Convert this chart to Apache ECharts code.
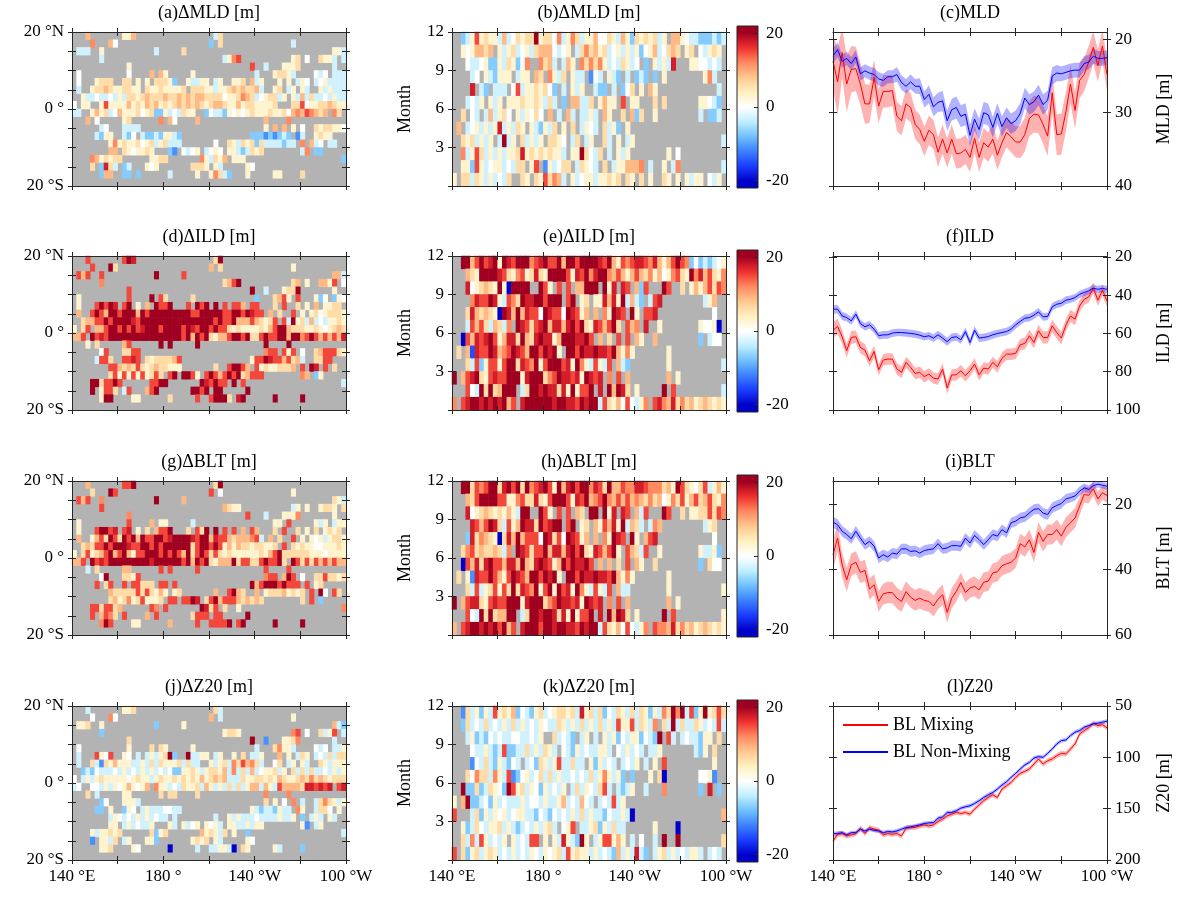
<!DOCTYPE html>
<html>
<head>
<meta charset="utf-8">
<script src="https://cdn.jsdelivr.net/npm/echarts@6/dist/echarts.min.js"></script>
<style>
  html, body { margin: 0; background: #fff; }
  #chart { width: 1187px; height: 900px; }
</style>
</head>
<body>
<div id="chart"></div>
<script>
// ---- axis ticks / labels ----
const lonTicks = [140, 160, 180, 200, 220, 240, 260];
const lonLabelAt = [140, 180, 220, 260];
const lonLabelText = ["140 °E", "180 °", "140 °W", "100 °W"];
const latTicks = [-20, -15, -10, -5, 0, 5, 10, 15, 20];
const latLabelAt = [-20, 0, 20];
const latLabelText = ["20 °S", "0 °", "20 °N"];
const monthTicks = [0, 3, 6, 9, 12];
const monthLabelAt = [3, 6, 9, 12];
const cbarTicks = [-20, 0, 20];

// longitude of the zonal-mean curves
const lon = [140, 142, 144, 146, 148, 150, 152, 154, 156, 158, 160, 162, 164, 166, 168, 170, 172, 174, 176, 178,
  180, 182, 184, 186, 188, 190, 192, 194, 196, 198, 200, 202, 204, 206, 208, 210, 212, 214, 216, 218,
  220, 222, 224, 226, 228, 230, 232, 234, 236, 238, 240, 242, 244, 246, 248, 250, 252, 254, 256, 258, 260];

// cell codes read off the colour of each cell ('.' = no data, grey)
const levelValue = { "0": 0, "1": 3, "2": 6, "3": 9, "4": 12, "5": 15, "6": 17.5, "7": 20,
  a: -3, b: -7, c: -11, d: -15, e: -20 };

// maps: 60 lon cells (2 deg) x 20 lat cells (2 deg), north row first
const mldMap = [
  "...3...... .113...... .......... .a2....... .......... ..........",
  "....4...30 .......... .......... b.2....... ........a. ..........",
  ".aaa..1... ........a. ....2..... .......... .......... .......11a",
  "......a... .......... .......... ...a145... ........12 .0..211a.a",
  ".......... ..1....... .......... .........5 ..a...1112 .......a..",
  ".0........ ..0....3.3 1.....1... .......... a...1221a. ...0a0.aaa",
  ".0...1222. .22.1.1.22 21b..1aa11 .a1..112.3 a1...1.1.a 10.a01aaaa",
  ".a..122321 12211.2112 11112.2221 1a11232322 3a..12.a1. 1a..1a1aaa",
  "..1aa0aa0a 1a22123222 3223232332 2220112432 a0122a1.1a 3a2aa0a1aa",
  "0.11..1511 1131213231 2123232321 2332113122 11112...22 5011223211",
  "aa..1312a0 31112012bb 1a0a211..b 0aab101012 1112112034 354323.42.",
  "...3.0.... .12......4 .30....3.. .......... ..3....4.. ..........",
  "......a0.. .aaaa..... .......... .......... ..1.3.3.1. 0..2122110",
  ".....ab11. .ab0.abbab 11ab...... .........b bbcbcbab.c a..1211...",
  "........14 12112012a1 2aaa...... .0..21a212 b2aaaabaa. 4.3a0.aa..",
  "........33 .2101121.. .bc.0a01.a 010.11aba2 12........ a4.bb.....",
  "....431212 2......112 2.......41 a213.111.. .......... .........b",
  "....2.b62a .ba...101. ......2221 .1a.....10 .......... ..........",
  "......b33. .bb.b..... .a.....1.. 142ab...1. ....11.... 2.........",
  ".......... .......... .......... .......... .......... .........."
];
const ildMap = [
  "...5...... .576...... .......... .27....... .......... ..........",
  "....5...72 .......... .......... 3.2....... ........1. ..........",
  ".535..5... ........7. ....5..... .......... .......... .......33a",
  "......4... .......... .......... ...2357... ........23 .1..3315.0",
  ".......... ..5....... .......... .........7 ..a...1227 .......1..",
  ".1........ ..5....7.5 2.....2... .......... b...2351.5 ...1b0.b10",
  ".1...57576 .57.1.3.75 57...5.757 .7.5.553.5 5...2.5..2 .1.3.1122.",
  ".3..575377 5777375777 7777775577 7775577576 55.3.2..5. 1.12012221",
  "..23355757 7776577777 7777777777 7575573335 32125.5a71 2a3a0a1121",
  "1.25.33577 5757567775 7777576577 5755212111 1213577322 2112101232",
  "335.756577 7777777777 7777573757 2133577572 2575577377 4575353536",
  "...1.2.... .35......7 .7.....7.. .......... ..7....7.. ..........",
  "......05.. .2255..... .......... .......... ..455.515. 0..2355521",
  ".....a552. .5565.2122 2235...... .........1 5576553523 a..2255...",
  "........55 3232521232 2111...... .2..57753. 512112223. 5.76.5.2..",
  "........25 1515151252 .57.7751.5 7535757235 55........ 43.b1.....",
  "....772557 5......557 7.......76 5755.7.5.. .......... .........a",
  "....7.1552 .a5...357. ......7757 .77.....7. .......... ..........",
  "......177. ...11..... .2.....5.. 57772.67.. ....7..... 7.........",
  ".......... .......... .......... .......... .......... .........."
];
const bltMap = [
  "...3...... .557...... .......... .27....... .......... ..........",
  "....2...75 .......... .......... 5.0....... ........1. ..........",
  ".535..4... ........7. ....3..... .......... .......... .......21a",
  "......5... .......... .......... ...3211... ........a1 .1..1221.2",
  ".......... ..4....... .......... ........5. ..a...1114 .......1..",
  ".1........ ..5....3.1 1.....a... .......... ....11.5.. ...1a1.a11",
  ".1...57756 .56.1.2.35 57...2.527 .7.5.5.3.5 3...2.5..2 .1.2.1212.",
  ".3..135275 2757375577 5677776577 3655323334 5a.3.2..5. 1.101a1221",
  "..23255757 7765577575 7777772577 5751313221 22112.5.21 2110011121",
  "1.25123573 5731557775 7575372575 2521211111 1213572222 2211101111",
  "335.756577 7777777677 7777573757 2133372552 2575572.75 2525353533",
  "...a.2.... .33......5 .5.....5.. .......... ..5....5.. ..........",
  "......07.. .2215..... .......... .......... ..455.375. 0..2252212",
  ".....5.25. .5.55222.5 5.5....... .........7 3577757555 .5.12.....",
  "........32 2222525213 1.12...... .3..5732.. 3.12223121 2.5.70.52.",
  "........23 1241251112 .55.5576.2 5735553232 32........ 2.5.b.....",
  "....552552 3......54. 5.......76 25.2..1... .......... .........4",
  "....5.3542 .5....3.5. ......2555 .55.....7. .......... ..........",
  "......475. ...11..... .3.....5.. 55557.57.. ....7..... 7.........",
  ".......... .......... .......... .......... .......... .........."
];
const z20Map = [
  "...a...... .112...... .......... .2a....... .......... ..........",
  "....0...40 .......... .......... 3.a....... ........1. ..........",
  ".112..1... ........b. ....1..... .......... .......... .......3ab",
  "......b... .......... .......... ...1221... ........45 .0..2a15.a",
  ".......... ..2....... .......... .........7 ..c...1124 .......a..",
  ".0........ ..1....2.2 1.....1... .......... a...2411a. ...0a0.aa1",
  ".a...5105. .10.a.a1a1 27b..7aa11 .a1..1.2.a a1...3.1.a 21.a0a2a22",
  ".a..2ac213 111aa1a2a2 1112a2aa.. 1a12a42534 2a..02.a1. 1a..21a111",
  "..bab0aaa0 a1a0a1a1a0 a0bb1121a1 2213a4a2a3 a0112a1.2a 2a2aa0a1a1",
  "0.a1a12111 1101211a12 1121212131 2323aaa211 2212132112 3242321222",
  "a0..00a1a1 0131013.41 1a0a2112a3 1a1a2a2a13 3a31a53333 2665656.56",
  "...2.a.... .11......2 .22....2.. .......... ..4....4.. ..........",
  "......b0.. .111a..... .......... .......... ..2.1.0.4. a..a2421a1",
  ".....bb.1. .b10.a1aaa 00aa...... .........1 abaab1aa.4 1..a220.1.",
  "........a1 0a0a1a1a0a a.a....... .a..1a1aaa 0aaaa1aa1. b.a1a.1a..",
  "........11 .a1a0aa1.. .1a.1a01.1 01a.11aa1a 11........ 1c.a1.....",
  "....1a1121 2......2b1 2.......31 21a2.1..b. .......... .........a",
  "....c.11a2 .a1...11b. ......1212 .1a.....10 .......... ..........",
  "......112. ...10..... .e.....a.. aa11ae.21. ....1a.... b.........",
  ".......... .......... .......... .......... .......... .........."
];

// lon-month sections: 60 lon cells x 12 months, December row first
const mldMonth = [
  "..ba151211 a3a0212271 2204a142a1 130021a31b 21212a1.33 10aabbbaba",
  "..1013323. 1a12a01a23 330a01.a24 2312a01a1a 1b013a0232 .12.0a121.",
  "...0aa01bb 1a21b04..4 23a.a31.42 4241a0a21a 0.b.1a1a6. ..1100a0a.",
  "....a0.1ab 111.a11.32 .41a2.1aa. c0a.1ab.a. bab.b.1... .....14a..",
  "....6.ab.a aa.05a1121 20b.a.1a1. .abb.a.b02 .1.31..... ........a.",
  "...a0a1.1a 1.11121121 a2a.b.33aa 2.1311.5.1 1...2.2... ....110ab.",
  "..2.0a.a3a 120.1a1020 .3.a.3a.aa 1a.31..2.3 b2..1..... ....a.bba.",
  ".3.a01a1a1 6a1a21.1ab 1a2.1.2.a1 0a.2a1b.1. .......... ..........",
  "..212a1a1. a7a1.2a1a1 .2210.a2.a 1..2a.1.a1 .......... .........a",
  "..4a152a1a 1a11261212 1211a.1172 0a2.a.1a1. .......1.0 ..........",
  "..11b51a01 1a0a22.15. c1a022.a21 0a.2.a1133 34.a..1.a4 .........a",
  "1.22a21a1a 0a2..21.21 5243a.1a01 1a11212.21 .2.1..21.1 .1a11.0a1."
];
const ildMonth = [
  "..77357567 1765777456 7557377577 7765731545 6654631357 54b0baba01",
  "...3217777 6521451262 1777751657 4677435313 5324130145 2174635214",
  "...6012321 71e7777..7 51.5.5.337 77.716.65. 3b5...75.. 2.13135254",
  "....465576 1a54276677 5777.57.12 .1163617a3 ab.a56.... .....a13..",
  "...2632321 e763736550 7655076513 .3.41765.7 1.556..... .......0..",
  "...a5352a3 2a4.765256 7366367572 1653572.53 4.6..1.... ....1001e.",
  "..e5365675 1366273267 6613777667 5.3.2.5.5. 31..3..... ....b.a00.",
  ".2.3d65576 3457653775 7671.77576 6766573141 .......1.. ..........",
  "...2a5b155 1577265471 5777561741 a51a5.3ab. .......1.. .........a",
  "7.35672156 5577716777 2457665617 656.4.5.3. .......3.1 ..........",
  "...50a7272 3777.a2776 7662617155 7.6.73762. 1.....7.5. .........a",
  "4.56776767 6735.67777 7767766576 77a5213050 a14.564362 4231232121"
];
const bltMonth = [
  "..77254577 2675727456 7517367577 4652733544 6654442317 521025a131",
  "...3257777 5511452262 1577751657 3457435353 4324230142 5135235214",
  "...6012321 2131a77..7 51.5.5.32. 77.716.65. 3a5...75.. 2.11225254",
  "....653576 2a51376627 5677.57.12 .3153617a3 2a.a43.... .....a12..",
  "...b624321 e263735550 7625076513 .3.41765.7 1.356..... .......0..",
  "..24523223 2a4.765255 7366367572 1653571.53 2a5..1.... ....1aa1b.",
  "..e5362675 5366373267 6513757667 5.3.3.2.5. 31..2..... ....b.200.",
  ".2.1c65575 3157653775 7671.77576 6766573141 .......1.. ..........",
  "...2a5a125 1527265471 5717561741 a51a5.3aa. .......1.. .........1",
  "7.35662156 5577716777 2457665617 656.4.5.3. .......3.1 ..........",
  "...50a7272 3377.a2776 7762617155 7.6.73762. 1.....7.5. .........1",
  "3.56776767 5735.67775 7767766576 77a5213050 a14.544362 4231232121"
];
const z20Month = [
  "..c2a1b1a5 1213b0ab12 a012212a61 2a2b0a21a2 a21b1a4274 7a5b171252",
  "..b2a0a2a0 a1a2a1a0a1 0aa21a1a2a 1a2a1a5115 a21a4.2a7a 2aa21a0a5a",
  "...a1bab0a 0aa00aa0a1 ..2a0ab.a1 .a.1a1b0a1 1b0ab7.5a. a0aab11.2.",
  "....0aa1ab a5bbaa2a1a 21a.0ab1a0 aa11a.0a1a 0a.aa1.... ...ab1.2..",
  "....c0a2ab 1ab0a.a0b2 1a15aa2aa. 1b1a0a.a0a 1.a.1.5... .......1..",
  "...20422a4 1a5cb01a02 a2a1aa0a0a 2a141a1b.b ...1.2e... ....001c..",
  "..7bb2ba21 0b7512a10b 1a0a1.a2a1 0a25a.aba1 ..a...4... ....b.6.b.",
  "1.37bba0b1 a0aaa1a00a 1aa13a0a30 a.a0a5a1.. .......... ..........",
  "5...a2b1a1 01a011aab0 ab0a0a1a2a 1aab0aa1ae .......... .........3",
  "..1ba20a11 2a1aba0a1a 12a.015.aa 12b1a2aa.. ....1....e ..........",
  "..2a4a51a0 a1.1a0a55. 1.1a61ab71 .a155131.a .0..a.7..7 .........2",
  "5.2b12a121 a0a1a0a10a 1012a51211 a1a0ab3a1a 6ab.a12a1a 0a11a.a0a."
];

// zonal-mean curves (m) and their shaded spread
const mldMix = [23.0, 25.8, 21.8, 26.1, 24.1, 24.0, 26.1, 28.8, 28.8, 25.2, 29.1, 27.1, 27.1, 27.0, 30.5, 31.1, 28.8, 29.3, 31.6, 32.3,
  33.9, 32.4, 33.0, 35.4, 33.6, 35.5, 33.6, 35.6, 35.5, 35.0, 36.1, 33.5, 36.1, 34.1, 34.7, 33.6, 35.8, 34.1, 32.7, 33.3,
  34.0, 34.0, 33.0, 30.8, 30.2, 30.3, 31.6, 33.2, 27.3, 33.0, 32.9, 29.9, 26.1, 29.7, 25.6, 24.8, 23.1, 21.1, 23.6, 20.9, 24.8];
const mldMixErr = [3.6, 4.6, 3.4, 3.8, 3.2, 3.0, 2.9, 2.7, 2.6, 2.5, 2.3, 2.2, 2.2, 2.1, 2.0, 2.0, 2.0, 2.0, 2.0, 2.0,
  2.0, 2.0, 2.0, 2.0, 2.0, 2.0, 2.0, 2.0, 2.0, 2.0, 2.0, 2.0, 2.0, 2.0, 2.0, 2.0, 2.0, 2.0, 2.0, 2.1,
  2.1, 2.2, 2.3, 2.4, 2.5, 2.5, 2.6, 2.7, 2.8, 2.8, 2.8, 2.7, 2.6, 2.5, 2.4, 2.3, 2.2, 2.2, 2.2, 2.2, 2.2];
const mldNon = [22.3, 21.4, 23.0, 22.6, 23.3, 22.4, 24.7, 24.3, 24.6, 24.8, 25.4, 25.6, 25.1, 25.1, 24.8, 25.9, 26.4, 25.8, 26.4, 26.4,
  28.2, 27.5, 29.2, 28.6, 28.4, 31.1, 29.6, 29.3, 30.5, 30.2, 33.1, 30.9, 32.3, 30.0, 30.3, 32.0, 30.1, 31.9, 30.7, 31.5,
  31.1, 30.1, 28.0, 28.9, 28.5, 27.6, 28.9, 28.3, 25.0, 24.6, 24.7, 24.5, 24.3, 24.2, 24.2, 23.3, 23.1, 22.3, 22.6, 22.6, 22.5];
const mldNonErr = [1.0, 1.0, 0.9, 0.9, 0.9, 0.9, 0.9, 0.9, 0.9, 0.9, 0.9, 0.9, 0.9, 0.9, 1.0, 1.0, 1.0, 1.0, 1.0, 1.1,
  1.1, 1.2, 1.3, 1.3, 1.4, 1.4, 1.5, 1.5, 1.5, 1.5, 1.5, 1.5, 1.5, 1.5, 1.5, 1.4, 1.4, 1.4, 1.4, 1.4,
  1.4, 1.4, 1.4, 1.4, 1.4, 1.4, 1.4, 1.3, 1.2, 1.1, 1.0, 1.0, 1.0, 1.0, 1.0, 1.0, 1.0, 1.0, 1.0, 1.0, 1.0];

const ildMix = [58.3, 56.3, 61.7, 69.0, 62.1, 61.7, 67.3, 68.7, 74.3, 69.4, 79.0, 73.9, 73.4, 73.4, 78.6, 80.3, 75.1, 77.7, 80.9, 80.3,
  82.6, 81.2, 83.3, 83.8, 78.6, 88.5, 81.7, 81.6, 79.5, 82.1, 79.5, 76.0, 81.6, 78.1, 78.6, 75.1, 77.4, 73.0, 70.8, 70.8,
  70.4, 65.9, 65.2, 61.2, 64.7, 58.6, 62.1, 62.1, 56.0, 59.5, 62.4, 55.7, 50.8, 52.5, 45.6, 42.1, 40.9, 36.3, 42.6, 37.4, 43.0];
const ildMixErr = [4.2, 4.0, 3.6, 3.5, 3.4, 3.3, 3.2, 3.2, 3.1, 3.1, 3.0, 3.0, 3.0, 3.0, 3.0, 3.0, 3.0, 3.0, 3.0, 3.0,
  3.0, 3.0, 3.0, 3.0, 3.0, 3.1, 3.0, 3.0, 3.0, 3.0, 3.0, 3.0, 3.0, 3.0, 3.0, 3.0, 3.0, 3.0, 3.0, 3.0,
  3.0, 3.0, 3.0, 3.1, 3.1, 3.1, 3.2, 3.2, 3.2, 3.3, 3.3, 3.3, 3.2, 3.2, 3.1, 3.0, 3.0, 3.0, 3.0, 3.0, 3.0];
const ildNon = [47.3, 47.3, 50.8, 51.7, 53.4, 49.9, 54.8, 56.5, 55.5, 57.7, 61.2, 60.7, 60.7, 59.8, 59.5, 59.5, 59.7, 60.0, 60.3, 60.9,
  61.7, 61.2, 62.4, 60.7, 62.4, 64.3, 62.1, 61.7, 63.3, 59.0, 64.7, 58.3, 62.4, 62.1, 61.6, 60.7, 60.0, 59.5, 59.0, 57.7,
  55.5, 53.7, 52.0, 51.7, 50.4, 48.7, 51.3, 51.1, 46.1, 44.7, 44.2, 42.6, 42.1, 41.2, 39.5, 38.6, 37.7, 36.3, 36.9, 36.5, 36.9];
const ildNonErr = [2.2, 2.2, 2.1, 2.1, 2.0, 2.0, 2.0, 2.0, 2.0, 2.0, 2.0, 2.0, 2.0, 2.0, 2.0, 2.0, 2.0, 2.0, 2.0, 2.0,
  2.0, 2.0, 2.0, 2.1, 2.1, 2.1, 2.1, 2.1, 2.1, 2.1, 2.1, 2.1, 2.1, 2.1, 2.1, 2.0, 2.0, 2.0, 2.0, 2.0,
  2.0, 2.0, 2.0, 2.0, 2.0, 2.0, 2.0, 2.0, 2.0, 2.0, 2.0, 2.0, 2.0, 1.9, 1.9, 1.9, 1.9, 1.9, 1.9, 1.9, 1.9];

const bltMix = [35.4, 30.3, 38.5, 43.1, 38.5, 37.7, 40.8, 40.2, 45.9, 44.6, 49.7, 47.4, 47.0, 47.0, 48.7, 49.7, 46.7, 48.4, 49.4, 48.7,
  49.4, 49.7, 51.1, 49.0, 47.7, 53.1, 48.7, 46.7, 43.9, 47.0, 45.6, 45.1, 46.2, 43.8, 43.5, 41.0, 40.6, 38.8, 38.2, 37.7,
  36.4, 32.0, 33.0, 30.8, 34.7, 28.5, 31.3, 29.2, 29.2, 27.7, 29.7, 27.0, 25.6, 24.1, 20.5, 16.9, 17.2, 15.2, 18.3, 16.4, 17.2];
const bltMixErr = [4.5, 4.2, 3.8, 3.6, 3.5, 3.4, 3.3, 3.3, 3.2, 3.2, 3.2, 3.2, 3.3, 3.3, 3.2, 3.2, 3.2, 3.2, 3.2, 3.2,
  3.2, 3.2, 3.2, 3.1, 3.1, 3.2, 3.1, 3.1, 3.0, 3.0, 3.0, 3.0, 3.0, 3.0, 3.0, 3.0, 3.0, 3.0, 3.0, 3.0,
  3.0, 3.0, 3.0, 3.1, 3.1, 3.1, 3.1, 3.1, 3.1, 3.1, 3.1, 3.1, 3.0, 3.0, 2.8, 2.6, 2.4, 2.2, 2.2, 2.2, 2.2];
const bltNon = [25.4, 26.2, 28.2, 29.2, 30.5, 28.2, 30.3, 32.3, 31.3, 32.8, 36.4, 35.4, 36.1, 34.9, 35.2, 33.6, 33.6, 34.4, 34.2, 34.9,
  34.1, 33.8, 33.6, 32.0, 33.6, 33.3, 32.6, 32.6, 32.8, 30.3, 31.8, 29.5, 30.8, 32.3, 30.8, 29.2, 29.7, 27.7, 28.7, 25.6,
  25.1, 24.1, 23.8, 22.6, 21.5, 21.3, 22.6, 23.1, 21.0, 20.3, 19.7, 18.3, 17.9, 17.4, 15.9, 14.9, 15.4, 14.2, 13.8, 14.1, 14.4];
const bltNonErr = [1.7, 1.7, 1.6, 1.6, 1.6, 1.6, 1.6, 1.6, 1.6, 1.6, 1.6, 1.6, 1.6, 1.6, 1.6, 1.6, 1.6, 1.6, 1.6, 1.6,
  1.6, 1.6, 1.6, 1.6, 1.6, 1.6, 1.6, 1.6, 1.6, 1.6, 1.6, 1.6, 1.6, 1.6, 1.6, 1.6, 1.6, 1.6, 1.6, 1.6,
  1.6, 1.6, 1.6, 1.6, 1.6, 1.6, 1.6, 1.6, 1.6, 1.6, 1.5, 1.5, 1.5, 1.4, 1.4, 1.3, 1.2, 1.1, 1.0, 1.0, 1.0];

const z20Mix = [181.4, 174.9, 174.3, 176.5, 175.6, 174.3, 169.1, 174.3, 168.4, 170.0, 171.0, 175.6, 174.3, 174.9, 174.3, 176.5, 169.1, 168.4, 168.4, 166.8,
  165.8, 166.8, 165.8, 162.5, 160.3, 157.0, 155.4, 153.7, 154.7, 153.7, 155.4, 150.5, 146.3, 142.3, 139.1, 136.5, 139.1, 130.9, 127.7, 124.4,
  119.5, 115.6, 113.7, 111.4, 106.5, 101.6, 106.5, 103.3, 101.6, 98.4, 96.1, 96.7, 91.9, 87.0, 77.2, 73.9, 71.3, 66.8, 69.1, 68.1, 71.3];
const z20MixErr = [3.0, 2.8, 2.6, 2.5, 2.4, 2.4, 2.4, 2.4, 2.4, 2.4, 2.4, 2.4, 2.4, 2.4, 2.4, 2.5, 2.4, 2.4, 2.4, 2.4,
  2.4, 2.4, 2.4, 2.3, 2.3, 2.3, 2.3, 2.3, 2.3, 2.3, 2.3, 2.3, 2.3, 2.3, 2.3, 2.3, 2.3, 2.3, 2.3, 2.3,
  2.3, 2.3, 2.3, 2.4, 2.4, 2.5, 2.5, 2.5, 2.5, 2.5, 2.5, 2.5, 2.4, 2.4, 2.4, 2.4, 2.4, 2.4, 2.4, 2.4, 2.4];
const z20Non = [174.3, 174.3, 173.3, 175.6, 173.3, 173.3, 170.0, 171.7, 170.0, 171.0, 171.7, 173.3, 172.3, 172.6, 171.7, 170.0, 168.4, 167.8, 166.8, 165.8,
  164.5, 163.8, 163.5, 159.3, 158.0, 153.7, 153.7, 152.1, 149.5, 148.2, 147.2, 145.0, 142.3, 139.1, 136.5, 134.2, 130.9, 127.0, 123.8, 119.5,
  115.6, 111.4, 107.5, 104.9, 100.7, 99.3, 100.0, 96.1, 91.9, 87.0, 83.7, 83.1, 78.8, 75.6, 73.9, 70.7, 69.1, 67.4, 66.8, 65.8, 64.8];
const z20NonErr = [2.0, 2.0, 1.9, 1.9, 1.9, 1.9, 1.9, 1.9, 1.9, 1.9, 1.9, 1.9, 1.9, 1.9, 1.9, 1.9, 1.9, 1.9, 1.9, 1.9,
  1.9, 1.9, 1.9, 1.9, 1.9, 1.9, 1.9, 1.9, 1.9, 1.9, 1.9, 1.9, 1.9, 1.9, 1.9, 1.9, 1.9, 1.9, 1.9, 1.9,
  1.9, 1.9, 1.9, 1.9, 1.9, 1.9, 1.9, 1.9, 1.9, 1.9, 1.9, 1.9, 1.9, 1.9, 1.9, 1.9, 1.9, 1.9, 1.9, 1.9, 1.9];

// ---- styling / layout ----
const serif = '"Liberation Serif", "Times New Roman", Times, serif';
const ink = "#262626";
const nanGrey = "#b3b3b3";
const cmap = ["#0000c8", "#1a3cff", "#3c80ff", "#70c0ff", "#c0eeff", "#ffffff",
  "#fff0c0", "#ffc890", "#ff8a60", "#f03030", "#a00020"];
const colX = [72, 452, 833];
const rowY = [32, 256, 481, 706];
const W = 274;
const H = 154;
const mixColor = "#ff0000";
const nonColor = "#0000ff";

const grids = [];
const xAxes = [];
const yAxes = [];
const series = [];
const titles = [];
const heatIdx = [];

const labelText = { fontFamily: serif, fontSize: 17, color: "#000" };

function addGrid(left, top, width, height, bg) {
  grids.push({ left, top, width, height, show: true, backgroundColor: bg, borderWidth: 0 });
  return grids.length - 1;
}

// frame on both sides of one dimension, ticks drawn across the line (out + in)
function frameAxes(g, dim, range, ticks, labelAt, fmt, labelSide, extra) {
  const list = dim === "x" ? xAxes : yAxes;
  const sides = dim === "x" ? ["bottom", "top"] : ["left", "right"];
  let labelIdx = -1;
  sides.forEach((pos) => {
    [false, true].forEach((inside) => {
      const main = !inside && pos === labelSide;
      if (main) {
        labelIdx = list.length;
      }
      const ax = {
        type: "value",
        gridIndex: g,
        position: pos,
        min: range[0],
        max: range[1],
        inverse: !!(extra && extra.inverse),
        z: 6,
        axisLine: { show: !inside, onZero: false, lineStyle: { color: ink, width: 1 } },
        axisTick: { show: true, inside, length: 4, customValues: ticks, lineStyle: { color: ink, width: 1 } },
        axisLabel: Object.assign({ show: main && !!labelAt, customValues: labelAt || ticks, formatter: fmt, margin: 8 }, labelText),
        splitLine: { show: false }
      };
      if (main && extra && extra.name) {
        Object.assign(ax, {
          name: extra.name,
          nameLocation: "middle",
          nameRotate: 90,
          nameGap: extra.nameGap,
          nameTextStyle: { fontFamily: serif, fontSize: 18, color: "#000" }
        });
      }
      list.push(ax);
    });
  });
  return labelIdx;
}

function addTitle(text, c, r) {
  titles.push({
    text,
    left: colX[c] + W / 2,
    top: rowY[r] - 28,
    textAlign: "center",
    padding: 0,
    textStyle: { fontFamily: serif, fontSize: 18, fontWeight: "normal", color: "#000" }
  });
}

function cells(rows, nCols) {
  const out = [];
  rows.forEach((row, r) => {
    const s = row.replace(/ /g, "").padEnd(nCols, ".").slice(0, nCols);
    for (let c = 0; c < nCols; c++) {
      const ch = s[c];
      if (ch in levelValue) {
        out.push([c, rows.length - 1 - r, levelValue[ch]]);
      }
    }
  });
  return out;
}

const lonFmt = (v) => lonLabelText[lonLabelAt.indexOf(v)] || "";
const latFmt = (v) => latLabelText[latLabelAt.indexOf(v)] || "";

function addHeat(g, rows, nCols) {
  const cx = xAxes.length;
  xAxes.push({ type: "category", gridIndex: g, show: false, data: Array.from({ length: nCols }, (_, i) => String(i)) });
  const cy = yAxes.length;
  yAxes.push({ type: "category", gridIndex: g, show: false, data: Array.from({ length: rows.length }, (_, i) => String(i)) });
  heatIdx.push(series.length);
  series.push({
    type: "heatmap",
    xAxisIndex: cx,
    yAxisIndex: cy,
    data: cells(rows, nCols),
    itemStyle: { borderWidth: 0 },
    emphasis: { disabled: true },
    silent: true
  });
}

function addMapPanel(rows, title, r) {
  const g = addGrid(colX[0], rowY[r], W, H, nanGrey);
  addHeat(g, rows, 60);
  frameAxes(g, "x", [140, 260], lonTicks, r === 3 ? lonLabelAt : null, lonFmt, "bottom");
  frameAxes(g, "y", [-20, 20], latTicks, latLabelAt, latFmt, "left");
  addTitle(title, 0, r);
}

function addMonthPanel(rows, title, r) {
  const g = addGrid(colX[1], rowY[r], W, H, nanGrey);
  addHeat(g, rows, 60);
  frameAxes(g, "x", [140, 260], lonTicks, r === 3 ? lonLabelAt : null, lonFmt, "bottom");
  frameAxes(g, "y", [0, 12], monthTicks, monthLabelAt, (v) => String(v), "left", { name: "Month", nameGap: 38 });
  addTitle(title, 1, r);
  addColorbar(r);
}

function addColorbar(r) {
  const stops = [];
  for (let i = cmap.length - 1; i >= 0; i--) {
    const v = -20 + 4 * i;
    stops.push({ offset: (22 - v) / 44, color: cmap[i] });
  }
  const g = addGrid(737, rowY[r] - 6, 21, H + 8, new echarts.graphic.LinearGradient(0, 0, 0, 1, stops));
  grids[g].borderWidth = 1;
  grids[g].borderColor = ink;
  xAxes.push({ type: "value", gridIndex: g, show: false, min: 0, max: 1 });
  yAxes.push({
    type: "value",
    gridIndex: g,
    position: "right",
    min: -22,
    max: 22,
    axisLine: { show: false, onZero: false },
    axisTick: { show: true, inside: true, length: 4, customValues: cbarTicks, lineStyle: { color: ink } },
    axisLabel: Object.assign({ customValues: cbarTicks, margin: 8 }, labelText),
    splitLine: { show: false }
  });
}

// shaded spread: transparent lower edge + stacked width, on a hidden category lon axis
function bandSeries(xi, yi, mean, err, color) {
  const lower = mean.map((m, i) => m - err[i]);
  const width = err.map((e) => 2 * e);
  const stack = "band" + series.length;
  series.push({
    type: "line", xAxisIndex: xi, yAxisIndex: yi, data: lower, stack,
    symbol: "none", lineStyle: { width: 0, opacity: 0 }, silent: true, z: 1
  });
  series.push({
    type: "line", xAxisIndex: xi, yAxisIndex: yi, data: width, stack,
    symbol: "none", lineStyle: { width: 0, opacity: 0 }, areaStyle: { color, opacity: 1 }, silent: true, z: 1
  });
}

function meanSeries(xi, yi, name, mean, color) {
  series.push({
    type: "line", name, xAxisIndex: xi, yAxisIndex: yi, data: mean,
    symbol: "none", lineStyle: { width: 1, color }, itemStyle: { color }, silent: true, z: 3
  });
}

function addLinePanel(r, title, range, ticks, name, mix, mixErr, non, nonErr) {
  const g = addGrid(colX[2], rowY[r], W, H, "transparent");
  const xi = xAxes.length;
  xAxes.push({ type: "category", gridIndex: g, show: false, boundaryGap: false, data: lon.map(String) });
  frameAxes(g, "x", [140, 260], lonTicks, r === 3 ? lonLabelAt : null, lonFmt, "bottom");
  const yi = frameAxes(g, "y", range, ticks, ticks, (v) => String(v), "right", { inverse: true, name, nameGap: 48 });
  bandSeries(xi, yi, mix, mixErr, "rgba(255,0,0,0.3)");
  bandSeries(xi, yi, non, nonErr, "rgba(0,0,255,0.3)");
  meanSeries(xi, yi, "BL Mixing", mix, mixColor);
  meanSeries(xi, yi, "BL Non-Mixing", non, nonColor);
  addTitle(title, 2, r);
}

addMapPanel(mldMap, "(a)ΔMLD [m]", 0);
addMonthPanel(mldMonth, "(b)ΔMLD [m]", 0);
addLinePanel(0, "(c)MLD", [19, 40], [20, 30, 40], "MLD [m]", mldMix, mldMixErr, mldNon, mldNonErr);

addMapPanel(ildMap, "(d)ΔILD [m]", 1);
addMonthPanel(ildMonth, "(e)ΔILD [m]", 1);
addLinePanel(1, "(f)ILD", [19.5, 100], [20, 40, 60, 80, 100], "ILD [m]", ildMix, ildMixErr, ildNon, ildNonErr);

addMapPanel(bltMap, "(g)ΔBLT [m]", 2);
addMonthPanel(bltMonth, "(h)ΔBLT [m]", 2);
addLinePanel(2, "(i)BLT", [12.8, 60], [20, 40, 60], "BLT [m]", bltMix, bltMixErr, bltNon, bltNonErr);

addMapPanel(z20Map, "(j)ΔZ20 [m]", 3);
addMonthPanel(z20Month, "(k)ΔZ20 [m]", 3);
addLinePanel(3, "(l)Z20", [50, 200], [50, 100, 150, 200], "Z20 [m]", z20Mix, z20MixErr, z20Non, z20NonErr);

const chart = echarts.init(document.getElementById("chart"), null, { renderer: "canvas" });
chart.setOption({
  animation: false,
  backgroundColor: "#ffffff",
  title: titles,
  grid: grids,
  xAxis: xAxes,
  yAxis: yAxes,
  visualMap: {
    type: "continuous",
    show: false,
    min: -20,
    max: 20,
    dimension: 2,
    seriesIndex: heatIdx,
    inRange: { color: cmap }
  },
  legend: {
    data: ["BL Mixing", "BL Non-Mixing"],
    left: 838,
    top: 711,
    orient: "vertical",
    itemWidth: 45,
    itemHeight: 2,
    icon: "rect",
    itemGap: 9,
    selectedMode: false,
    textStyle: { fontFamily: serif, fontSize: 18, color: "#000" }
  },
  series
});
</script>
</body>
</html>
